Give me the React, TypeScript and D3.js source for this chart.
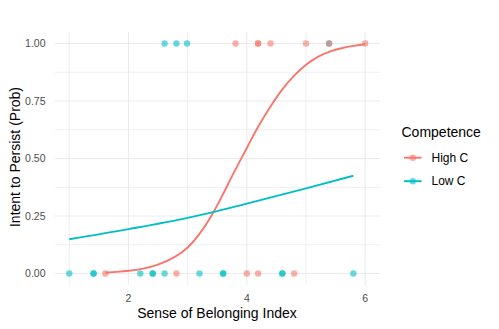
import React from "react";
import * as d3 from "d3";

// observed outcomes (0 = no intent, 1 = intent), by sense of belonging
const highTopX = [3.81, 4.19, 4.19, 4.4, 5.0, 5.39, 6.0];
const highBottomX = [1.61, 2.81, 4.0, 4.19, 4.8];
const lowTopX = [2.61, 2.81, 2.99, 5.39];
const lowBottomX = [1.0, 1.41, 1.41, 2.2, 2.41, 2.41, 2.61, 3.2, 3.6, 3.6, 4.6, 4.6, 5.8];

// fitted probabilities
const highFitX = [1.61, 1.8, 2.0, 2.25, 2.5, 2.8, 3.0, 3.2, 3.4, 3.6, 3.8, 4.0, 4.2, 4.4, 4.6, 4.8, 5.0, 5.2, 5.4, 5.6, 5.8, 6.0];
const highFitY = [0.004, 0.007, 0.011, 0.02, 0.036, 0.072, 0.109, 0.17, 0.246, 0.345, 0.45, 0.545, 0.645, 0.727, 0.804, 0.862, 0.91, 0.944, 0.966, 0.98, 0.99, 0.997];
const lowFitX = [1.0, 2.0, 3.0, 4.0, 5.0, 5.8];
const lowFitY = [0.149, 0.193, 0.242, 0.304, 0.37, 0.425];

const xTicks = [2, 4, 6];
const xMinor = [1, 3, 5];
const yTicks = [0, 0.25, 0.5, 0.75, 1];
const yMinor = [0.125, 0.375, 0.625, 0.875];

const groups = ["High C", "Low C"];
const colors = ["#F8766D", "#00BFC4"];

const W = 499;
const H = 329;
const font = "'Liberation Sans', Arial, sans-serif";

export default function App() {
  const x = d3.scaleLinear().domain([0.75, 6.25]).range([54.5, 380]);
  const y = d3.scaleLinear().domain([-0.05, 1.05]).range([285, 32]);

  const line = d3
    .line<[number, number]>()
    .x((d) => x(d[0]))
    .y((d) => y(d[1]));

  const highPts = [
    ...highTopX.map((v) => [v, 1]),
    ...highBottomX.map((v) => [v, 0]),
  ];
  const lowPts = [
    ...lowTopX.map((v) => [v, 1]),
    ...lowBottomX.map((v) => [v, 0]),
  ];

  const highLine = line.curve(d3.curveBasis)(highFitX.map((v, i) => [v, highFitY[i]]));
  const lowLine = line.curve(d3.curveMonotoneX)(lowFitX.map((v, i) => [v, lowFitY[i]]));

  return (
    <svg
      width={W}
      height={H}
      style={{ position: "absolute", left: 0, top: 0, background: "#fff" }}
      fontFamily={font}
    >
      {/* grid */}
      {xMinor.map((t) => (
        <line key={"xm" + t} x1={x(t)} x2={x(t)} y1={32} y2={285} stroke="#EBEBEB" strokeWidth={0.8} />
      ))}
      {yMinor.map((t) => (
        <line key={"ym" + t} x1={54.5} x2={380} y1={y(t)} y2={y(t)} stroke="#EBEBEB" strokeWidth={0.8} />
      ))}
      {xTicks.map((t) => (
        <line key={"xg" + t} x1={x(t)} x2={x(t)} y1={32} y2={285} stroke="#EBEBEB" strokeWidth={1.1} />
      ))}
      {yTicks.map((t) => (
        <line key={"yg" + t} x1={54.5} x2={380} y1={y(t)} y2={y(t)} stroke="#EBEBEB" strokeWidth={1.1} />
      ))}

      {/* points */}
      {lowPts.map((d, i) => (
        <circle key={"l" + i} cx={x(d[0])} cy={y(d[1])} r={3.2} fill={colors[1]} fillOpacity={0.6} />
      ))}
      {highPts.map((d, i) => (
        <circle key={"h" + i} cx={x(d[0])} cy={y(d[1])} r={3.2} fill={colors[0]} fillOpacity={0.6} />
      ))}

      {/* fitted lines */}
      <path d={highLine || ""} fill="none" stroke={colors[0]} strokeWidth={1.9} />
      <path d={lowLine || ""} fill="none" stroke={colors[1]} strokeWidth={1.9} />

      {/* axis labels */}
      {xTicks.map((t) => (
        <text key={"xt" + t} x={x(t)} y={302} textAnchor="middle" fontSize={10.5} fill="#4D4D4D">
          {t}
        </text>
      ))}
      {yTicks.map((t) => (
        <text key={"yt" + t} x={45.5} y={y(t)} dy="0.35em" textAnchor="end" fontSize={10.5} fill="#4D4D4D">
          {d3.format(".2f")(t)}
        </text>
      ))}
      <text x={217} y={318} textAnchor="middle" fontSize={14} fill="#000">
        Sense of Belonging Index
      </text>
      <text
        transform={`translate(19.5,${157}) rotate(-90)`}
        textAnchor="middle"
        fontSize={14}
        fill="#000"
      >
        Intent to Persist (Prob)
      </text>

      {/* legend */}
      <text x={401.5} y={136.5} fontSize={14} fill="#000">
        Competence
      </text>
      {groups.map((g, i) => {
        const cy = 157.7 + i * 23.5;
        return (
          <g key={g}>
            <line x1={404} x2={421.5} y1={cy} y2={cy} stroke={colors[i]} strokeWidth={1.9} />
            <circle cx={412.8} cy={cy} r={3.2} fill={colors[i]} fillOpacity={0.6} />
            <text x={431.5} y={cy} dy="0.35em" fontSize={12} fill="#000">
              {g}
            </text>
          </g>
        );
      })}
    </svg>
  );
}
